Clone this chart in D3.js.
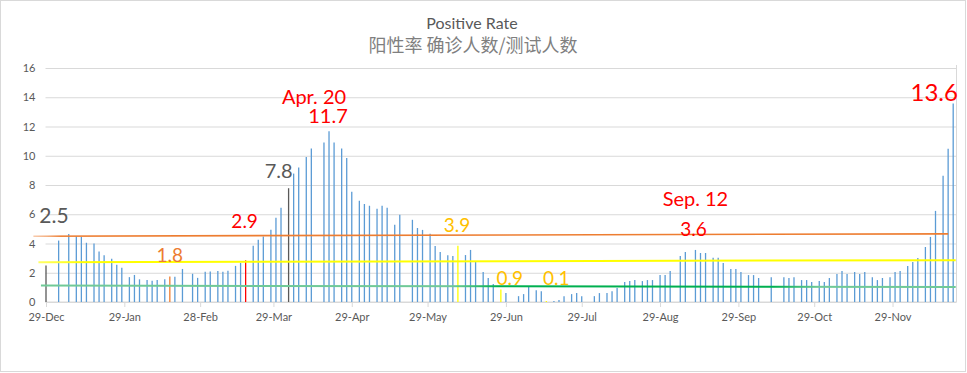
<!DOCTYPE html>
<html>
<head>
<meta charset="utf-8">
<script src="https://cdn.jsdelivr.net/npm/d3@7"></script>
<style>
  body { margin: 0; background: #fff; }
  svg { display: block; font-family: Lato, "Noto Sans", sans-serif; }
</style>
</head>
<body>
<svg width="967" height="373"></svg>
<script>
// data: sample dates and positive rate (%)
const dates = [
  '2021-12-29', '2022-01-03', '2022-01-07', '2022-01-10', '2022-01-12', '2022-01-14', '2022-01-17', '2022-01-19', '2022-01-21',
  '2022-01-24', '2022-01-26', '2022-01-28', '2022-01-31', '2022-02-02', '2022-02-04', '2022-02-07', '2022-02-09', '2022-02-11',
  '2022-02-14', '2022-02-16', '2022-02-18', '2022-02-21', '2022-02-25', '2022-02-27', '2022-03-02', '2022-03-04', '2022-03-07',
  '2022-03-09', '2022-03-11', '2022-03-14', '2022-03-16', '2022-03-18', '2022-03-21', '2022-03-23', '2022-03-25', '2022-03-28',
  '2022-03-30', '2022-04-01', '2022-04-04', '2022-04-06', '2022-04-08', '2022-04-11', '2022-04-13', '2022-04-18', '2022-04-20',
  '2022-04-22', '2022-04-25', '2022-04-27', '2022-04-29', '2022-05-02', '2022-05-04', '2022-05-06', '2022-05-09', '2022-05-11',
  '2022-05-13', '2022-05-16', '2022-05-18', '2022-05-23', '2022-05-25', '2022-05-27', '2022-05-30', '2022-06-01', '2022-06-03',
  '2022-06-06', '2022-06-08', '2022-06-10', '2022-06-13', '2022-06-15', '2022-06-17', '2022-06-20', '2022-06-22', '2022-06-24',
  '2022-06-27', '2022-06-29', '2022-07-04', '2022-07-06', '2022-07-08', '2022-07-11', '2022-07-13', '2022-07-15', '2022-07-18',
  '2022-07-20', '2022-07-22', '2022-07-25', '2022-07-27', '2022-07-29', '2022-08-03', '2022-08-05', '2022-08-08', '2022-08-10',
  '2022-08-12', '2022-08-15', '2022-08-17', '2022-08-19', '2022-08-22', '2022-08-24', '2022-08-26', '2022-08-29', '2022-08-31',
  '2022-09-02', '2022-09-06', '2022-09-08', '2022-09-12', '2022-09-14', '2022-09-16', '2022-09-19', '2022-09-21', '2022-09-23',
  '2022-09-26', '2022-09-28', '2022-09-30', '2022-10-03', '2022-10-05', '2022-10-07', '2022-10-12', '2022-10-17', '2022-10-19',
  '2022-10-21', '2022-10-24', '2022-10-26', '2022-10-28', '2022-10-31', '2022-11-02', '2022-11-04', '2022-11-07', '2022-11-09',
  '2022-11-11', '2022-11-14', '2022-11-16', '2022-11-18', '2022-11-21', '2022-11-23', '2022-11-25', '2022-11-28', '2022-11-30',
  '2022-12-02', '2022-12-05', '2022-12-07', '2022-12-09', '2022-12-12', '2022-12-14', '2022-12-16', '2022-12-19', '2022-12-21',
  '2022-12-23'
]
const rates = [
  2.5, 4.2, 4.65, 4.5, 4.45, 4.05, 4.0, 3.45, 3.2,
  2.95, 2.55, 2.35, 1.7, 1.85, 1.55, 1.5, 1.45, 1.5,
  1.55, 1.75, 1.72, 2.26, 1.93, 1.65, 2.06, 2.08, 2.12,
  2.06, 2.13, 2.47, 2.67, 2.85, 3.84, 4.25, 4.48, 4.94,
  5.76, 6.45, 7.78, 8.78, 9.19, 9.92, 10.49, 10.9, 11.68,
  10.9, 10.49, 9.85, 7.54, 6.93, 6.7, 6.58, 6.38, 6.58,
  6.45, 5.28, 5.97, 5.62, 5.06, 4.93, 4.67, 3.83, 3.42,
  3.2, 3.15, 3.85, 3.21, 3.56, 2.8, 2.05, 1.64, 1.23,
  0.85, 0.61, 0.4, 0.54, 1.04, 0.81, 0.74, 0.07, 0.07,
  0.14, 0.4, 0.54, 0.61, 0.4, 0.4, 0.61, 0.61, 0.74,
  0.95, 1.36, 1.43, 1.5, 1.43, 1.5, 1.5, 1.84, 1.84,
  2.12, 3.15, 3.42, 3.56, 3.35, 3.35, 3.02, 3.02, 2.67,
  2.25, 2.25, 2.05, 1.84, 1.84, 1.64, 1.7, 1.7, 1.64,
  1.7, 1.5, 1.5, 1.36, 1.43, 1.36, 1.64, 1.91, 2.12,
  1.91, 2.05, 1.91, 2.05, 1.7, 1.5, 1.64, 1.7, 2.05,
  2.12, 2.46, 2.73, 3.01, 3.76, 4.45, 6.23, 8.63, 10.48,
  13.58
]
// highlighted samples
const highlightDates = ['2021-12-29', '2022-02-16', '2022-03-18', '2022-04-04', '2022-06-10', '2022-06-27', '2022-07-15']
const highlightColors = ['#595959', '#ED7D31', '#FF0000', '#595959', '#FFFF00', '#FFFF00', '#FFFF00']

// reference lines: start/end dates and values
const refDates = [['2021-12-24', '2022-12-21'], ['2021-12-26', '2022-12-24'], ['2021-12-27', '2022-12-24']]
const refValues = [[4.5, 4.66], [2.72, 2.86], [1.12, 1.03]]
const refColors = ['orangeGrad', 'yellowGrad', 'greenGrad']

// annotations
const noteTexts = ['2.5', '1.8', '2.9', '7.8', 'Apr. 20', '11.7', '3.9', '0.9', '0.1', 'Sep. 12', '3.6', '13.6']
const noteDates = ['2021-12-29', '2022-02-16', '2022-03-18', '2022-04-04', '2022-04-20', '2022-04-20', '2022-06-10', '2022-06-27', '2022-07-15', '2022-09-12', '2022-09-12', '2022-12-23']
const noteColors = ['#595959', '#ED7D31', '#FF0000', '#595959', '#FF0000', '#FF0000', '#FFC000', '#FFC000', '#FFC000', '#FF0000', '#FF0000', '#FF0000']

const tickDates = ['2021-12-29', '2022-01-29', '2022-02-28', '2022-03-29', '2022-04-29', '2022-05-29', '2022-06-29', '2022-07-29', '2022-08-29', '2022-09-29', '2022-10-29', '2022-11-29']
const yTicks = [0, 2, 4, 6, 8, 10, 12, 14, 16]

main()

function main() {
    //constants
    const w = 967
    const h = 373
    const left = 45.5
    const right = 956.5
    const top = 68
    const bottom = 302
    const parse = d3.utcParse('%Y-%m-%d')
    const svg = d3.select('svg')

    // note offsets [dx, baseline y] and font sizes (layout only)
    const noteLayout = [
        [8, 223, 21], [0, 262, 19], [-1, 228, 19], [-10, 178, 20], [-15, 104, 20], [-1, 123, 20],
        [-1, 232, 19], [9, 285, 19], [10, 285, 19], [0, 206, 20], [-2, 236, 19], [-19, 101, 24]
    ]

    //scales
    const x = d3.scaleUtc()
        .domain([parse('2021-12-29'), parse('2022-12-24')])
        .range([left + 0.5, left + 0.5 + 360 * 2.527])
    const y = d3.scaleLinear()
        .domain([0, 16])
        .range([bottom, top])

    //border
    svg.append('rect')
        .attr('x', 0.5).attr('y', 0.5)
        .attr('width', w - 2).attr('height', h - 2)
        .attr('fill', '#fff')
        .attr('stroke', '#D9D9D9')

    //gradients
    const defs = svg.append('defs')
    const grads = [
        ['orangeGrad', [[0, '#F8CBAD'], [0.015, '#F4B183'], [0.03, '#ED7D31'], [1, '#ED7D31']]],
        ['yellowGrad', [[0, '#FFFF66'], [0.05, '#FFFF00'], [1, '#FFFF00']]],
        ['greenGrad', [[0, '#70C997'], [0.45, '#70C997'], [0.5, '#00B050'], [0.8, '#00B050'], [0.85, '#70C997'], [1, '#70C997']]]
    ]
    grads.forEach(([id, stops]) => {
        const g = defs.append('linearGradient').attr('id', id)
        stops.forEach(s => g.append('stop').attr('offset', s[0]).attr('stop-color', s[1]))
    })

    //title
    svg.append('text')
        .attr('x', 472).attr('y', 29)
        .attr('text-anchor', 'middle')
        .style('font-size', '16px')
        .style('fill', '#595959')
        .text('Positive Rate')
    svg.append('text')
        .attr('x', 473).attr('y', 52)
        .attr('text-anchor', 'middle')
        .style('font-size', '18px')
        .style('font-family', '"Noto Sans CJK SC", sans-serif')
        .style('fill', '#7F7F7F')
        .text('阳性率 确诊人数/测试人数')

    //gridlines
    svg.append('g')
        .attr('transform', 'translate(' + left + ',0)')
        .call(d3.axisLeft(y).tickValues(yTicks).tickSize(-(right - left)).tickFormat(''))
        .call(g => g.select('.domain').remove())
        .call(g => g.selectAll('line').attr('stroke', '#D9D9D9'))

    svg.append('line')
        .attr('x1', right).attr('x2', right)
        .attr('y1', top - 3).attr('y2', bottom)
        .attr('stroke', '#D9D9D9')

    //y axis labels
    svg.append('g')
        .attr('transform', 'translate(' + left + ',0)')
        .call(d3.axisLeft(y).tickValues(yTicks).tickSize(0).tickPadding(10))
        .call(g => g.select('.domain').remove())
        .call(g => g.selectAll('text').style('font-size', '11px').style('font-family', 'Lato').attr('fill', '#595959'))

    //x axis
    svg.append('g')
        .attr('transform', 'translate(0,' + bottom + ')')
        .call(d3.axisBottom(x).tickValues(tickDates.map(parse)).tickFormat(d3.utcFormat('%d-%b')).tickSize(5).tickPadding(6))
        .call(g => g.select('.domain').attr('d', 'M' + left + ',0H' + right).attr('stroke', '#D9D9D9'))
        .call(g => g.selectAll('line').attr('stroke', '#D9D9D9'))
        .call(g => g.selectAll('text').style('font-size', '11px').style('font-family', 'Lato').attr('fill', '#595959'))

    //bars
    const data = dates.map((d, i) => ({ date: parse(d), key: d, value: rates[i] }))
    svg.append('g')
        .selectAll('line')
        .data(data)
        .enter()
        .append('line')
        .attr('x1', d => x(d.date))
        .attr('x2', d => x(d.date))
        .attr('y1', y(0))
        .attr('y2', d => y(d.value))
        .attr('stroke', d => {
            const k = highlightDates.indexOf(d.key)
            return k >= 0 ? highlightColors[k] : '#5B9BD5'
        })
        .attr('stroke-width', 1.3)

    //reference lines
    svg.append('g')
        .selectAll('line')
        .data(refDates)
        .enter()
        .append('line')
        .attr('x1', d => x(parse(d[0])))
        .attr('x2', d => x(parse(d[1])))
        .attr('y1', (d, i) => y(refValues[i][0]))
        .attr('y2', (d, i) => y(refValues[i][1]))
        .attr('stroke', (d, i) => 'url(#' + refColors[i] + ')')
        .attr('stroke-width', (d, i) => i === 0 ? 1.6 : 2)

    //annotations
    svg.append('g')
        .selectAll('text')
        .data(noteTexts)
        .enter()
        .append('text')
        .attr('x', (d, i) => x(parse(noteDates[i])) + noteLayout[i][0])
        .attr('y', (d, i) => noteLayout[i][1])
        .attr('text-anchor', 'middle')
        .style('font-size', (d, i) => noteLayout[i][2] + 'px')
        .style('fill', (d, i) => noteColors[i])
        .text(d => d)
}
</script>
</body>
</html>
